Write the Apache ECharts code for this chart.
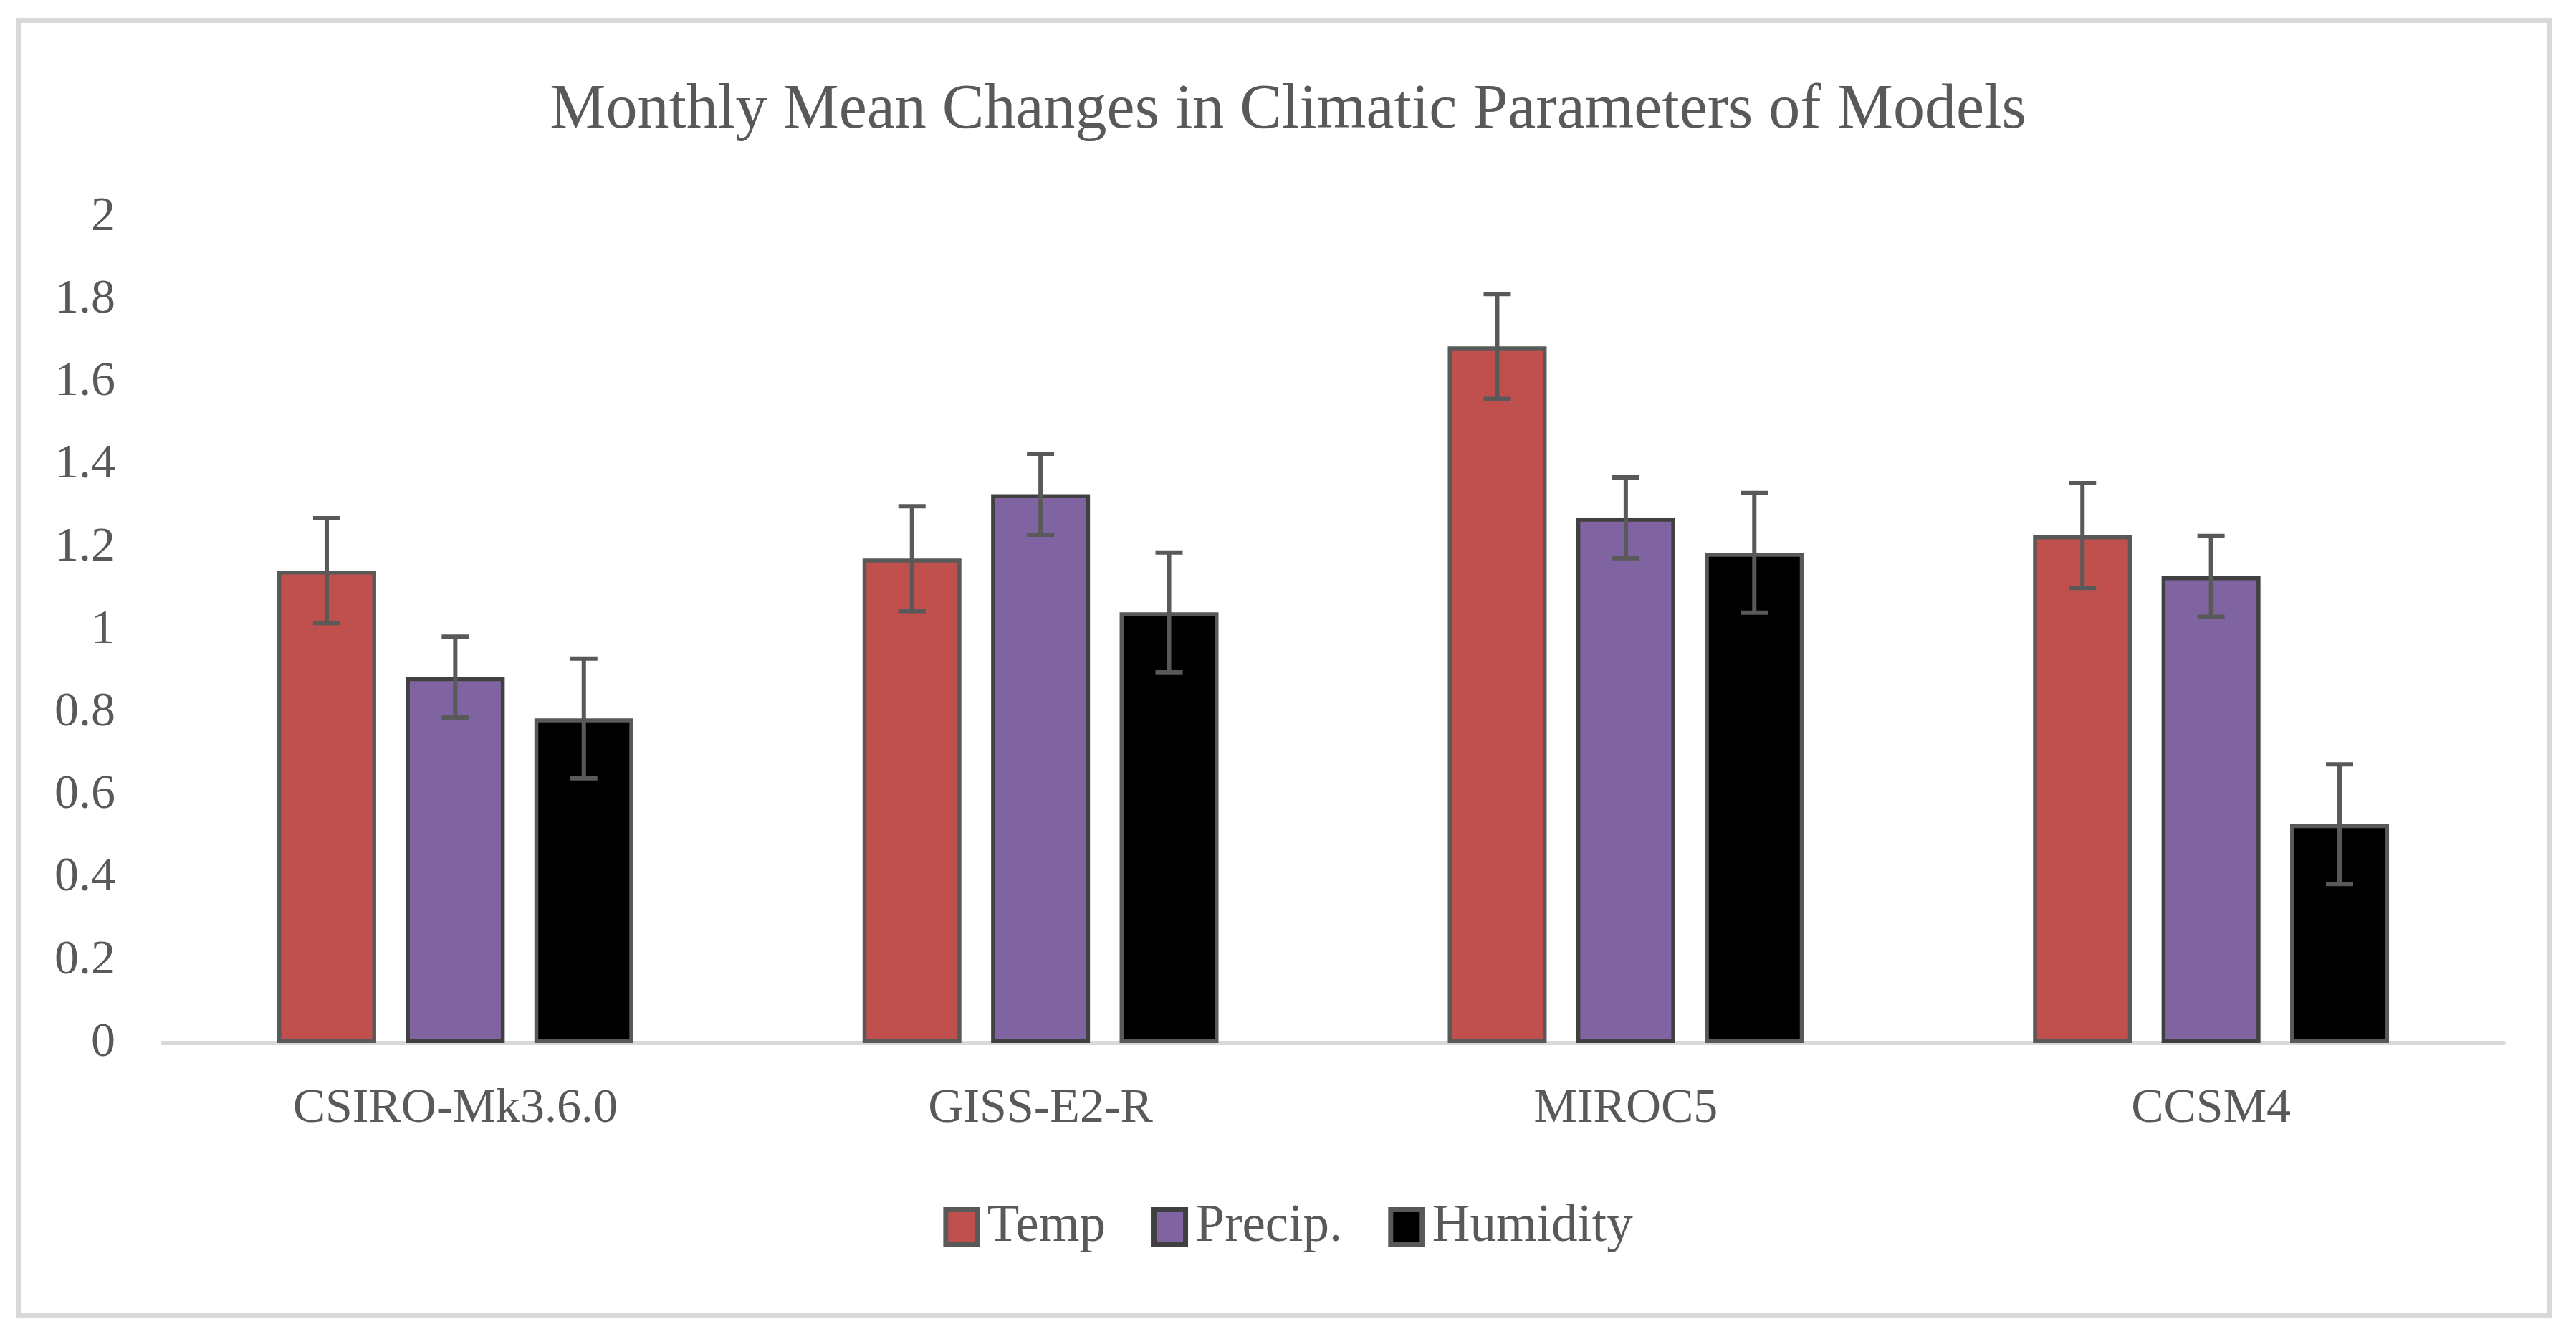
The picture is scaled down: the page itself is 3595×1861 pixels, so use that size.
<!DOCTYPE html>
<html>
<head>
<meta charset="utf-8">
<script src="https://cdn.jsdelivr.net/npm/echarts@6/dist/echarts.min.js"></script>
<style>html,body{margin:0;padding:0;background:#fff}#c{width:3595px;height:1861px}</style>
</head>
<body>
<div id="c"></div>
<script>
const categories = ['CSIRO-Mk3.6.0', 'GISS-E2-R', 'MIROC5', 'CCSM4'];
const seriesNames = ['Temp', 'Precip.', 'Humidity'];
const tempValues = [1.144, 1.173, 1.687, 1.229];
const precipValues = [0.886, 1.329, 1.272, 1.130];
const humidityValues = [0.786, 1.043, 1.187, 0.530];
const tempErr = [0.127, 0.127, 0.127, 0.127];
const precipErr = [0.098, 0.098, 0.098, 0.098];
const humidityErr = [0.145, 0.145, 0.145, 0.145];
const yTicks = [0, 0.2, 0.4, 0.6, 0.8, 1, 1.2, 1.4, 1.6, 1.8, 2];

const FONT = '"Liberation Serif", "DejaVu Serif", serif';
const TXT = '#595959';
const BAR_W = 138;
const BAR_GAP = 0.30;
const colors = ['#C0504D', '#8064A2', '#000000'];
const borders = ['#595959', '#404040', '#595959'];
const valuesList = [tempValues, precipValues, humidityValues];
const errList = [tempErr, precipErr, humidityErr];

const chart = echarts.init(document.getElementById('c'), null, {renderer: 'canvas'});

const barSeries = seriesNames.map((n, i) => ({
  name: n,
  type: 'bar',
  data: valuesList[i],
  barWidth: BAR_W,
  barGap: (BAR_GAP * 100) + '%',
  itemStyle: {color: colors[i], borderColor: borders[i], borderWidth: 5.5},
  emphasis: {disabled: true},
  z: 2
}));

const errSeries = seriesNames.map((n, i) => ({
  type: 'custom',
  name: n + ' err',
  data: valuesList[i].map((v, k) => [k, v - errList[i][k], v + errList[i][k]]),
  z: 5,
  silent: true,
  renderItem: function (params, api) {
    const k = api.value(0);
    const lo = api.coord([k, api.value(1)]);
    const hi = api.coord([k, api.value(2)]);
    const x = lo[0] + (i - 1) * BAR_W * (1 + BAR_GAP);
    const cap = 19;
    const st = {stroke: '#595959', lineWidth: 6};
    return {
      type: 'group',
      children: [
        {type: 'line', shape: {x1: x, y1: lo[1], x2: x, y2: hi[1]}, style: st},
        {type: 'line', shape: {x1: x - cap, y1: lo[1], x2: x + cap, y2: lo[1]}, style: st},
        {type: 'line', shape: {x1: x - cap, y1: hi[1], x2: x + cap, y2: hi[1]}, style: st}
      ]
    };
  }
}));

const option = {
  backgroundColor: '#ffffff',
  animation: false,
  title: {
    text: 'Monthly Mean Changes in Climatic Parameters of Models',
    left: 'center',
    top: 106,
    textStyle: {fontFamily: FONT, fontSize: 88, fontWeight: 'normal', color: TXT}
  },
  legend: {
    data: seriesNames.map((n, i) => ({
      name: n,
      icon: 'rect',
      itemStyle: {color: colors[i], borderColor: borders[i], borderWidth: 7}
    })),
    left: 'center',
    top: 1670,
    itemWidth: 44,
    itemHeight: 48,
    itemGap: 64,
    textStyle: {fontFamily: FONT, fontSize: 73, color: TXT, padding: [0, 0, 0, 9]}
  },
  grid: {left: 227, right: 101, top: 303, bottom: 406, containLabel: false},
  xAxis: {
    type: 'category',
    data: categories,
    axisLine: {show: true, lineStyle: {color: '#D9D9D9', width: 6}},
    axisTick: {show: false},
    axisLabel: {fontFamily: FONT, fontSize: 68, color: TXT, margin: 58}
  },
  yAxis: {
    type: 'value',
    min: yTicks[0],
    max: yTicks[yTicks.length - 1],
    interval: 0.2,
    axisLine: {show: false},
    axisTick: {show: false},
    splitLine: {show: false},
    axisLabel: {fontFamily: FONT, fontSize: 68, color: TXT, margin: 66,
      formatter: v => String(Math.round(v * 10) / 10)}
  },
  graphic: [{
    type: 'rect',
    shape: {x: 26.5, y: 28.5, width: 3532, height: 1807},
    style: {fill: 'none', stroke: '#D9D9D9', lineWidth: 7},
    silent: true, z: -1
  }],
  series: barSeries.concat(errSeries)
};
chart.setOption(option);
</script>
</body>
</html>
